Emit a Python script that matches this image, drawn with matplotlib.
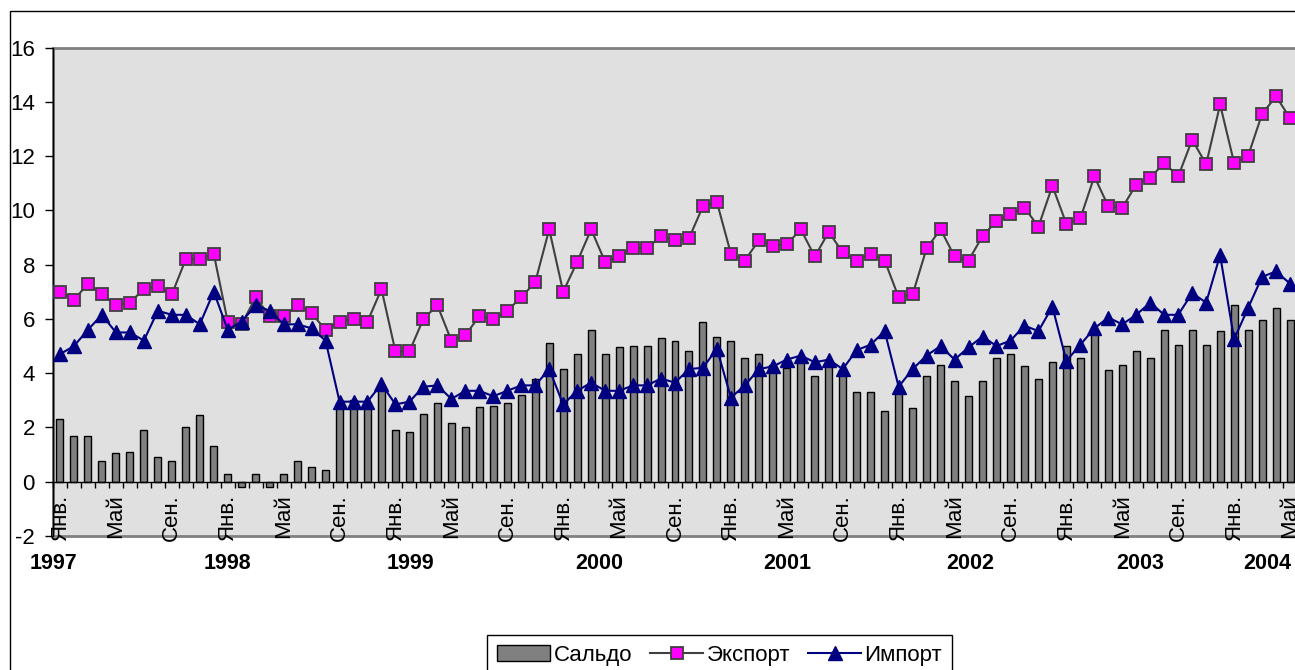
import matplotlib
matplotlib.use('Agg')
import matplotlib.pyplot as plt
from matplotlib.patches import Patch, Rectangle
from matplotlib.lines import Line2D
import numpy as np

plt.rcParams['font.family'] = ['Liberation Sans', 'DejaVu Sans']
plt.rcParams['axes.unicode_minus'] = False

# monthly data, Jan 1997 - May 2004
saldo = [2.3, 1.7, 1.7, 0.75, 1.05, 1.1, 1.9, 0.9, 0.75, 2.0, 2.45, 1.3,
         0.3, -0.2, 0.3, -0.2, 0.3, 0.75, 0.55, 0.45, 2.9, 3.0, 2.9, 3.5,
         1.9, 1.85, 2.5, 2.9, 2.15, 2.0, 2.75, 2.8, 2.9, 3.2, 3.8, 5.1,
         4.15, 4.7, 5.6, 4.7, 4.95, 5.0, 5.0, 5.3, 5.2, 4.8, 5.9, 5.35,
         5.2, 4.55, 4.7, 4.3, 4.2, 4.5, 3.9, 4.4, 4.1, 3.3, 3.3, 2.6,
         3.3, 2.7, 3.9, 4.3, 3.7, 3.15, 3.7, 4.55, 4.7, 4.25, 3.8, 4.4,
         5.0, 4.55, 5.5, 4.1, 4.3, 4.8, 4.55, 5.6, 5.05, 5.6, 5.05, 5.55,
         6.5, 5.6, 5.95, 6.4, 5.95]

export = [7.0, 6.7, 7.3, 6.9, 6.5, 6.6, 7.1, 7.2, 6.9, 8.2, 8.2, 8.4,
          5.9, 5.8, 6.8, 6.1, 6.1, 6.5, 6.2, 5.6, 5.9, 6.0, 5.9, 7.1,
          4.8, 4.8, 6.0, 6.5, 5.2, 5.4, 6.1, 6.0, 6.3, 6.8, 7.35, 9.3,
          7.0, 8.1, 9.3, 8.1, 8.3, 8.6, 8.6, 9.05, 8.9, 8.97, 10.15, 10.3,
          8.4, 8.15, 8.9, 8.7, 8.75, 9.3, 8.3, 9.2, 8.45, 8.15, 8.4, 8.15,
          6.8, 6.9, 8.6, 9.3, 8.3, 8.15, 9.05, 9.6, 9.85, 10.1, 9.4, 10.9,
          9.5, 9.7, 11.25, 10.15, 10.1, 10.95, 11.2, 11.75, 11.25, 12.6, 11.7, 13.9,
          11.75, 12.0, 13.55, 14.2, 13.4]

imports = [4.7, 5.0, 5.6, 6.15, 5.5, 5.5, 5.2, 6.3, 6.15, 6.15, 5.8, 7.0,
           5.6, 5.9, 6.5, 6.3, 5.8, 5.8, 5.65, 5.2, 2.95, 2.95, 2.95, 3.6,
           2.85, 2.95, 3.5, 3.55, 3.05, 3.35, 3.35, 3.15, 3.35, 3.55, 3.55, 4.15,
           2.85, 3.35, 3.65, 3.35, 3.35, 3.55, 3.55, 3.8, 3.65, 4.15, 4.2, 4.9,
           3.1, 3.55, 4.15, 4.25, 4.5, 4.65, 4.4, 4.5, 4.15, 4.85, 5.05, 5.55,
           3.5, 4.15, 4.65, 5.0, 4.5, 4.95, 5.35, 5.0, 5.2, 5.75, 5.55, 6.45,
           4.45, 5.05, 5.65, 6.05, 5.8, 6.15, 6.6, 6.15, 6.15, 6.95, 6.6, 8.35,
           5.25, 6.4, 7.55, 7.75, 7.3]

month_names = ['Янв.', 'Май', 'Сен.']
years = ['1997', '1998', '1999', '2000', '2001', '2002', '2003', '2004']
year_label_x = [-0.45, 11.95, 25.1, 38.6, 52.0, 65.1, 77.3, 86.4]

W, H = 1295, 670
fig = plt.figure(figsize=(W / 100, H / 100), dpi=100)
ax = fig.add_axes([53 / W, 1 - 536 / H, (1297 - 53) / W, (536 - 47.5) / H])
ax.set_facecolor('#e0e0e0')

x = np.arange(len(saldo))
ax.bar(x, saldo, width=0.5, color='#808080', edgecolor='black', linewidth=1, zorder=2)
ax.plot(x, export, color='#404040', lw=1.5, marker='s', ms=8.5, mfc='#ff00ff',
        mec='#404040', mew=1.3, zorder=3)
ax.plot(x, imports, color='#000080', lw=1.5, marker='^', ms=9.5, mfc='#000080',
        mec='#000080', zorder=4)

ax.set_xlim(-0.5, len(saldo) - 0.5)
ax.set_ylim(-2, 16)
ax.set_yticks(np.arange(-2, 17, 2))
ax.tick_params(axis='y', labelsize=16, length=6, width=1, pad=7, color='black')

# category axis crosses at zero, labels every 4 months
ax.spines['bottom'].set_position(('data', 0))
ax.spines['bottom'].set_color('black')
ax.spines['bottom'].set_linewidth(1)
for s in ['top', 'right']:
    ax.spines[s].set_visible(False)
ax.spines['left'].set_color('black')
ax.spines['left'].set_linewidth(1)

lab_pos = x[::4]
ax.set_xticks(lab_pos)
ax.set_xticklabels([month_names[(i // 4) % 3] for i in lab_pos], rotation=90, fontsize=16)
ax.set_xticks(np.arange(-0.5, len(saldo), 1), minor=True)
ax.tick_params(axis='x', which='major', length=0, pad=9)
ax.tick_params(axis='x', which='minor', length=4, width=1, direction='out', color='black')

# plot area frame
ax.add_patch(Rectangle((0, 0), 1, 1, transform=ax.transAxes, fill=False,
                       edgecolor='#808080', lw=2, clip_on=False, zorder=1))

for yl, xp in zip(years, year_label_x):
    ax.text(xp, -0.0553, yl, transform=ax.get_xaxis_transform(), ha='center', va='center',
            fontsize=15.5, fontweight='bold')

# outer chart border
fig.add_artist(Rectangle((9.5 / W, -0.05), 2, 1 - 10.5 / H + 0.05, transform=fig.transFigure,
                         fill=False, edgecolor='black', lw=1))

handles = [Patch(facecolor='#808080', edgecolor='black', linewidth=1),
           Line2D([], [], color='#404040', lw=1.5, marker='s', ms=8.5, mfc='#ff00ff', mec='#404040', mew=1.3),
           Line2D([], [], color='#000080', lw=1.5, marker='^', ms=9.5, mfc='#000080', mec='#000080')]
leg = fig.legend(handles, ['Сальдо', 'Экспорт', 'Импорт'], loc='upper left',
                 bbox_to_anchor=(487 / W, 1 - 635 / H), bbox_transform=fig.transFigure,
                 ncol=3, fontsize=16, frameon=True, fancybox=False, framealpha=1,
                 edgecolor='black', borderaxespad=0, borderpad=0.45,
                 handlelength=2.4, handletextpad=0.15, columnspacing=0.8)
leg.get_frame().set_linewidth(1)

fig.savefig('out.png', dpi=100)
